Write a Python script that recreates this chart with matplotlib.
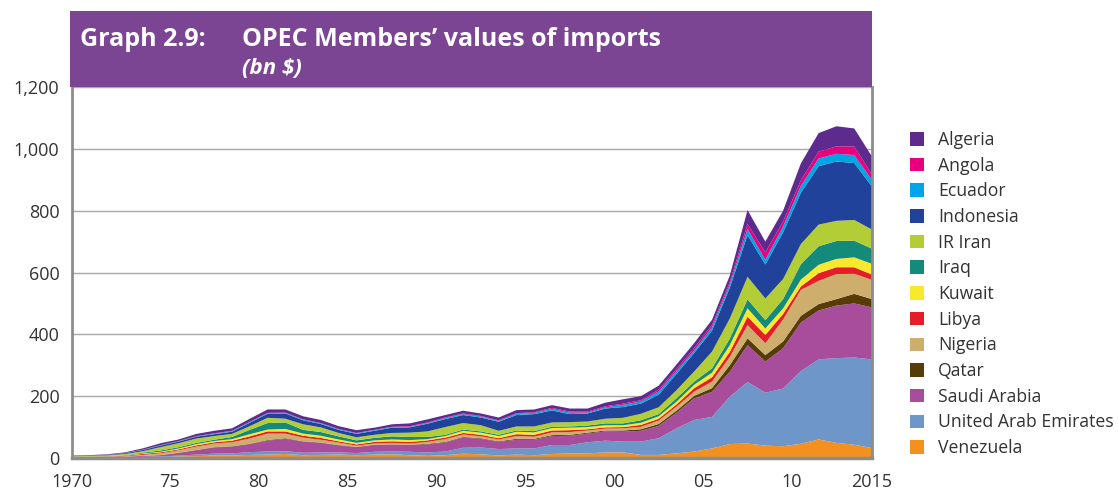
import matplotlib
matplotlib.use("Agg")
import matplotlib.pyplot as plt
from matplotlib.patches import Rectangle
from matplotlib.ticker import FuncFormatter

plt.rcParams['font.family'] = ['Open Sans', 'DejaVu Sans']

years = list(range(1970, 2016))

# values of imports, bn $, bottom layer first
venezuela = [0.5, 0.6, 0.7, 1.2, 2.5, 3, 5, 6, 8, 8, 10, 11, 13, 9, 10, 11, 9, 11, 12, 9,
             7, 9, 14, 12, 8, 11, 9, 13, 15, 15, 18, 18, 10, 10, 15, 21, 31, 45, 47, 40,
             38, 46, 60, 49, 43, 32]
uae = [0.3, 0.3, 0.4, 0.8, 1.4, 2, 3, 5, 6, 7, 9, 10, 9, 8, 8, 7, 7, 9, 9, 11,
       11, 12, 19, 22, 21, 20, 22, 29, 27, 36, 38, 35, 43, 54, 81, 102, 102, 153, 199, 171,
       187, 235, 259, 274, 282, 287]
saudi = [0.7, 0.8, 1.1, 1.9, 3, 4, 8, 14, 20, 22, 26, 35, 40, 36, 31, 23, 19, 22, 22, 22,
         26, 29, 33, 28, 23, 28, 28, 29, 30, 28, 30, 32, 35, 40, 50, 70, 81, 81, 119, 101,
         130, 157, 158, 170, 175, 168]
qatar = [0.1, 0.1, 0.1, 0.2, 0.3, 0.5, 1, 1, 1, 1, 1, 2, 2, 1, 1, 1, 1, 1, 1, 1,
         2, 2, 2, 2, 2, 3, 3, 3, 3, 3, 3, 4, 5, 6, 7, 8, 12, 21, 22, 21,
         22, 22, 21, 21, 31, 27]
nigeria = [0.9, 1, 1.3, 1.8, 3, 6, 8, 11, 12, 13, 17, 21, 15, 12, 9, 8, 4, 4, 5, 4,
           6, 9, 8, 6, 6, 9, 7, 9, 9, 7, 6, 7, 8, 11, 13, 14, 21, 27, 43, 38,
           71, 84, 75, 81, 65, 62]
libya = [0.6, 0.7, 1.1, 1.8, 3, 3, 3, 4, 4, 5, 7, 7, 7, 6, 6, 4, 4, 5, 5, 5,
         5, 5, 5, 5, 4, 6, 6, 6, 6, 4, 4, 4, 6, 6, 7, 11, 14, 16, 27, 27,
         18, 11, 25, 22, 21, 17]
kuwait = [0.6, 0.6, 0.8, 1, 1.5, 2, 3, 4, 4, 5, 7, 6, 8, 7, 7, 6, 5, 5, 6, 6,
          4, 5, 7, 7, 7, 8, 8, 8, 8, 7, 7, 6, 7, 8, 9, 11, 15, 22, 27, 21,
          18, 22, 27, 27, 32, 35]
iraq = [0.5, 0.6, 0.7, 0.9, 2.5, 4, 4, 4, 4, 7, 14, 21, 21, 12, 12, 10, 8, 8, 10, 10,
        7, 4, 4, 4, 4, 4, 4, 4, 4, 5, 6, 6, 8, 7, 11, 10, 14, 21, 29, 27,
        30, 50, 60, 58, 54, 49]
iran = [1.6, 1.9, 2.5, 3.4, 5, 11, 13, 14, 12, 10, 12, 17, 12, 18, 15, 11, 10, 10, 11, 14,
        18, 25, 21, 20, 13, 13, 15, 14, 14, 13, 15, 18, 21, 22, 26, 33, 54, 65, 73, 70,
        65, 65, 70, 65, 67, 62]
indonesia = [1.0, 1.1, 1.5, 2.5, 4, 5, 5, 6, 6, 7, 11, 13, 17, 13, 11, 10, 11, 13, 17, 17,
             25, 26, 26, 25, 29, 37, 40, 39, 26, 26, 33, 35, 33, 41, 53, 60, 68, 100, 135, 110,
             151, 166, 189, 192, 184, 139]
ecuador = [0.3, 0.3, 0.3, 0.5, 1, 1, 1, 1, 2, 2, 2, 2, 2, 2, 2, 2, 2, 2, 2, 2,
           2, 3, 3, 3, 3, 4, 4, 5, 5, 3, 4, 7, 7, 10, 9, 8, 11, 10, 20, 15,
           19, 22, 25, 25, 26, 21]
angola = [0.1, 0.1, 0.1, 0.2, 0.3, 0.5, 1, 1, 1, 1, 1, 1, 1, 1, 1, 1, 1, 1, 1, 2,
          2, 2, 2, 2, 2, 2, 2, 3, 3, 3, 3, 4, 4, 6, 7, 8, 8, 8, 16, 24,
          16, 18, 22, 24, 28, 18]
algeria = [1.1, 1.2, 1.5, 2.2, 4, 6, 5, 7, 8, 8, 10, 11, 10, 10, 10, 9, 9, 7, 8, 9,
           10, 8, 9, 8, 9, 10, 9, 9, 10, 10, 12, 14, 13, 13, 14, 16, 16, 21, 45, 35,
           35, 55, 60, 65, 58, 58]

names = ['Venezuela', 'United Arab Emirates', 'Saudi Arabia', 'Qatar', 'Nigeria', 'Libya',
         'Kuwait', 'Iraq', 'IR Iran', 'Indonesia', 'Ecuador', 'Angola', 'Algeria']
series = [venezuela, uae, saudi, qatar, nigeria, libya, kuwait, iraq, iran, indonesia,
          ecuador, angola, algeria]
colors = ['#f39020', '#6e96c8', '#a84c9c', '#573c08', '#cdae6c', '#e41e26', '#f9e92c',
          '#148a7b', '#b2cd35', '#21429a', '#00a5e6', '#e9007f', '#5d2b8e']

tick_pos = [1970, 1975.5, 1980.5, 1985.5, 1990.5, 1995.5, 2000.5, 2005.5, 2010.5, 2015]
tick_lab = ['1970', '75', '80', '85', '90', '95', '00', '05', '10', '2015']

W, H = 1118, 493
fig = plt.figure(figsize=(W / 100, H / 100), dpi=100)
ax = fig.add_axes([72 / W, 35 / H, 800 / W, 371 / H])

polys = ax.stackplot(years, *series, colors=colors, linewidth=0)

ax.set_xlim(1970, 2015)
ax.set_ylim(0, 1200)
ax.set_yticks(range(0, 1201, 200))
ax.yaxis.set_major_formatter(FuncFormatter(lambda v, p: f'{v:,.0f}'))
ax.set_xticks(tick_pos)
ax.set_xticklabels(tick_lab)
ax.tick_params(length=0, labelsize=13, colors='#333333')
ax.tick_params(axis='y', pad=9)
ax.tick_params(axis='x', pad=11)

ax.yaxis.grid(True, color='#a8a8a8', lw=1)
ax.set_axisbelow(True)
ax.spines['top'].set_visible(False)
for s in ['left', 'right']:
    ax.spines[s].set_color('#8c8c8c')
    ax.spines[s].set_linewidth(2)
ax.spines['bottom'].set_color('#8c8c8c')
ax.spines['bottom'].set_linewidth(2.5)

# title banner
fig.add_artist(Rectangle((70 / W, 1 - 87 / H), 802 / W, 76 / H,
                         transform=fig.transFigure, color='#7b4593', lw=0))
fig.text(80 / W, 1 - 46 / H, 'Graph 2.9:', color='white', fontsize=18,
         fontweight='bold', va='baseline')
fig.text(242 / W, 1 - 46 / H, 'OPEC Members\u2019 values of imports', color='white',
         fontsize=18, fontweight='bold', va='baseline')
fig.text(242 / W, 1 - 74 / H, '(bn $)', color='white', fontsize=16,
         fontweight='bold', fontstyle='italic', va='baseline')

fig.legend(polys[::-1], names[::-1], loc='upper left',
           bbox_to_anchor=(910 / W, 1 - 131 / H), frameon=False, fontsize=12.7,
           handlelength=0.8, handleheight=0.8, handletextpad=0.8,
           labelspacing=0.435, borderaxespad=0, borderpad=0,
           labelcolor='#333333')

fig.savefig('out.png', dpi=100)
